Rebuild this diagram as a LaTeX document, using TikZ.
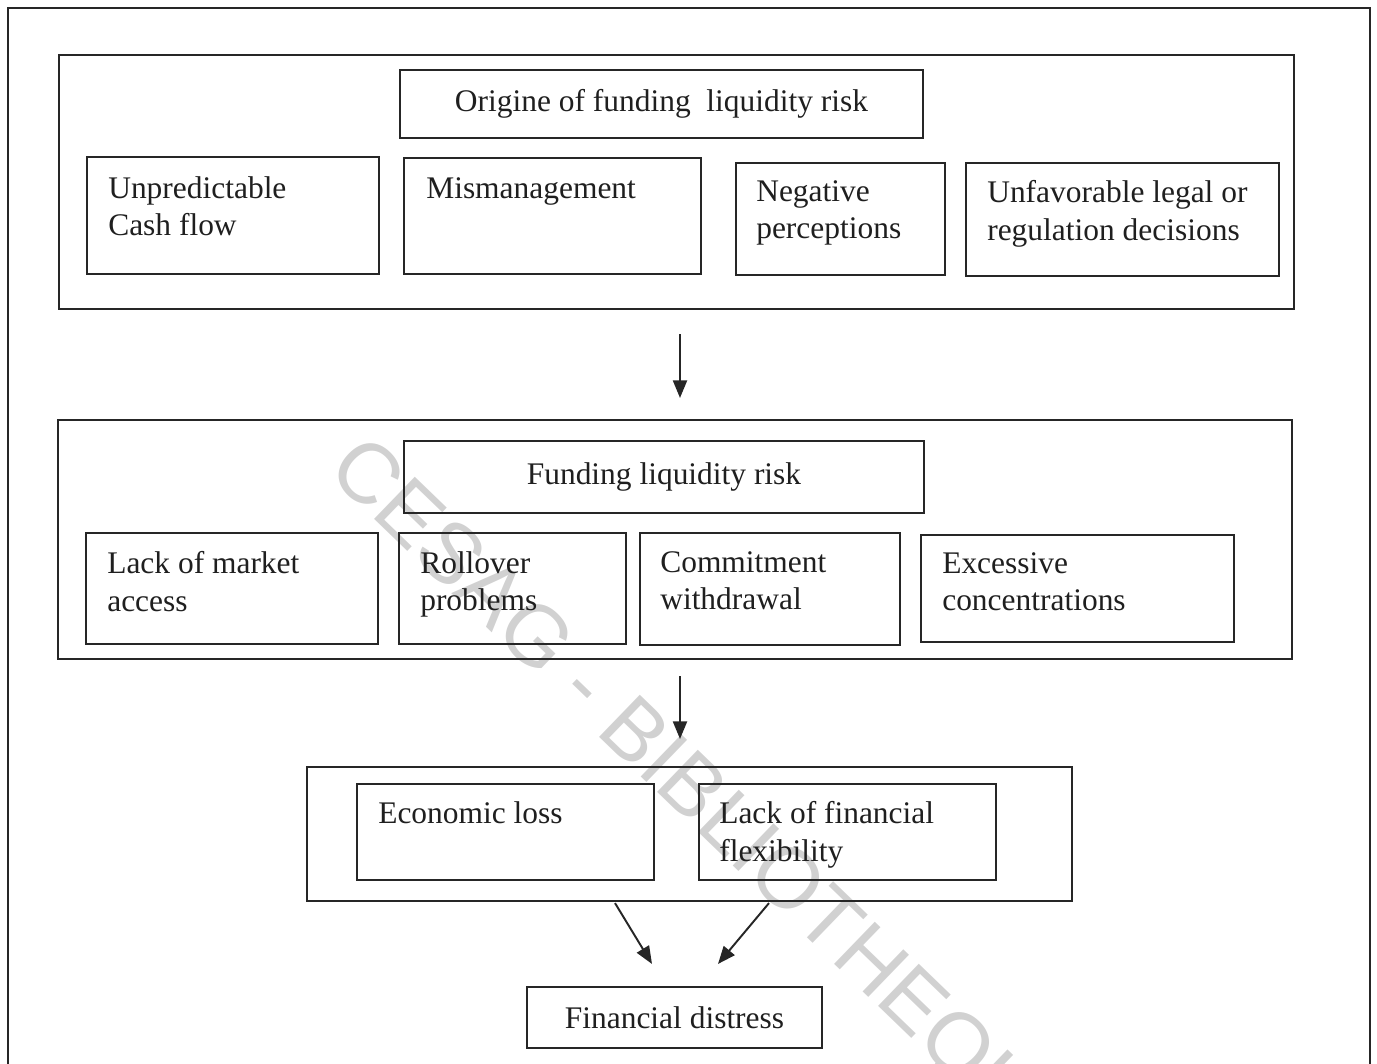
\documentclass[tikz,border=0pt]{standalone}
\usepackage{fontspec}
\setmainfont{Liberation Serif}
\newfontfamily\wmfont{Liberation Sans}
\usetikzlibrary{fit,arrows.meta,calc}
\begin{document}
\begin{tikzpicture}[x=0.02cm,y=-0.02cm,
  box/.style={draw=black!85, line width=1.2pt, inner sep=0pt},
  txt/.style={anchor=north west, inner sep=0pt, align=left, text=black!88, font=\fontsize{17.9pt}{21.5pt}\selectfont},
  ctxt/.style={inner sep=0pt, text=black!88, font=\fontsize{17.9pt}{21.5pt}\selectfont},
  arr/.style={draw=black!85, line width=1.1pt, -{Triangle[length=10pt,width=8pt]}},
  wm/.style={text=black!18, font=\wmfont\fontsize{48.5pt}{48.5pt}\selectfont, inner sep=0pt, anchor=base west, rotate=-44}]
\useasboundingbox (0,0) rectangle (1377,1063);
\begin{scope}
  \clip (0,0) rectangle (1377,1063);
  \node[wm] (wm) at (325,472) {CESAG - BIBLIOTHEQUE};
  \node[box, fit={(8,8) (1370,1078)}] (frame) {};
\end{scope}

% panel 1
\node[box, fit={(59,55) (1294,309)}] (p1) {};
\node[box, fit={(400,70) (923,138)}] (o) {};
\node[ctxt] (ot) at (o.center) {Origine of funding~ liquidity risk};
\node[box, fit={(87,157) (379,274)}] (b1) {};
\node[box, fit={(404,158) (701,274)}] (b2) {};
\node[box, fit={(736,163) (945,275)}] (b3) {};
\node[box, fit={(966,163) (1279,276)}] (b4) {};
\node[txt] (t1) at ($(b1.north west)+(22,20)$) {Unpredictable\\Cash flow};
\node[txt] (t2) at ($(b2.north west)+(23,20)$) {Mismanagement};
\node[txt] (t3) at ($(b3.north west)+(21,18)$) {Negative\\perceptions};
\node[txt] (t4) at ($(b4.north west)+(22,18)$) {Unfavorable legal or\\regulation decisions};

% panel 2
\node[box, fit={(58,420) (1292,659)}] (p2) {};
\node[box, fit={(404,441) (924,513)}] (f) {};
\node[ctxt] (ft) at (f.center) {Funding liquidity risk};
\node[box, fit={(86,533) (378,644)}] (c1) {};
\node[box, fit={(399,533) (626,644)}] (c2) {};
\node[box, fit={(640,533) (900,645)}] (c3) {};
\node[box, fit={(921,535) (1234,642)}] (c4) {};
\node[txt] (u1) at ($(c1.north west)+(22,19)$) {Lack of market\\access};
\node[txt] (u2) at ($(c2.north west)+(22,19)$) {Rollover\\problems};
\node[txt] (u3) at ($(c3.north west)+(21,19)$) {Commitment\\withdrawal};
\node[txt] (u4) at ($(c4.north west)+(22,18)$) {Excessive\\concentrations};

% panel 3
\node[box, fit={(307,767) (1072,901)}] (p3) {};
\node[box, fit={(357,784) (654,880)}] (e1) {};
\node[box, fit={(699,784) (996,880)}] (e2) {};
\node[txt] (v1) at ($(e1.north west)+(22,18)$) {Economic loss};
\node[txt] (v2) at ($(e2.north west)+(21,18)$) {Lack of financial\\flexibility};

\node[box, fit={(527,987) (822,1048)}] (fd) {};
\node[ctxt] (fdt) at (fd.center) {Financial distress};

% arrows
\coordinate (a1s) at ($(p1.south)+(3.5,24)$);
\coordinate (a1e) at ($(p2.north)+(5,-21)$);
\coordinate (a2s) at ($(p2.south)+(5,16)$);
\coordinate (a2e) at ($(p3.north)+(-9.5,-27)$);
\coordinate (a3s) at ($(p3.south)+(-74.5,1)$);
\coordinate (a3e) at ($(fd.north)+(-22.5,-22)$);
\coordinate (a4s) at ($(p3.south)+(79.5,1)$);
\coordinate (a4e) at ($(fd.north)+(43.5,-22)$);
\draw[arr] (a1s) -- (a1e);
\draw[arr] (a2s) -- (a2e);
\draw[arr] (a3s) -- (a3e);
\draw[arr] (a4s) -- (a4e);
\end{tikzpicture}
\end{document}
